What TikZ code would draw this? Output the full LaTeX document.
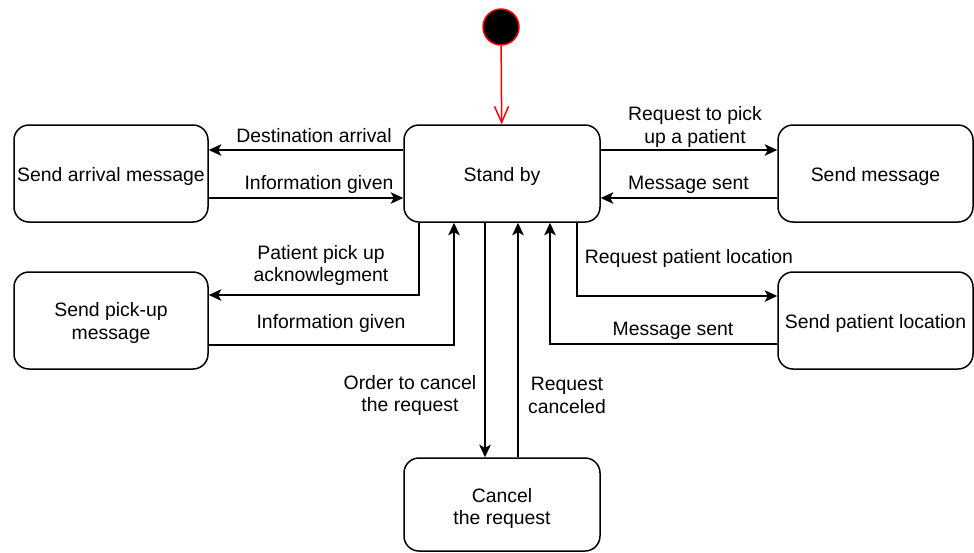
\documentclass[tikz,border=0pt]{standalone}
\usepackage{fontspec}
\setmainfont{Liberation Sans}
\usetikzlibrary{arrows.meta}
\begin{document}
\begin{tikzpicture}[x=1pt,y=-1pt,
  txt/.style={font=\fontsize{19.4}{22.5}\selectfont, align=center, inner sep=0pt},
  state/.style={draw, line width=1.5pt, rounded corners=15pt, inner sep=0pt, minimum width=#1, minimum height=97pt},
  state/.default=195pt,
  stxt/.style={txt, yshift=-2.5pt},
  arr/.style={line width=1.5pt, -{Stealth[length=12.5pt,width=11.5pt,inset=3pt]}},
  lbl/.style={txt, yshift=-1.5pt}]
\useasboundingbox (0,0) rectangle (974,552);
% states
\node[circle, draw=red, fill=black, line width=1.5pt, minimum size=36pt, inner sep=0pt] (init) at (501,27) {};
\node[state=196pt, label={[stxt]center:Stand by}] (standby) at (502,173.5) {};
\node[state=194pt, label={[stxt]center:Send arrival message}] (arrival) at (111,173.5) {};
\node[state=195pt, label={[stxt]center:Send message}] (sendmsg) at (875.5,173.5) {};
\node[state=194pt, label={[stxt]center:{Send pick-up\\message}}] (pickup) at (111,320.5) {};
\node[state=195pt, label={[stxt]center:Send patient location}] (location) at (875.5,320.5) {};
\node[state=196pt, minimum height=93pt, label={[stxt,yshift=-1.5pt]center:{Cancel\\the request}}] (cancel) at (502,504.5) {};
% helper coordinates
\coordinate (y150) at (0,150);
\coordinate (y198) at (0,198);
\coordinate (y295) at (0,295);
\coordinate (y345) at (0,345);
\coordinate (y296) at (0,296);
\coordinate (y344) at (0,344);
\coordinate (x419) at (419,0);
\coordinate (x454) at (454,0);
\coordinate (x577) at (577,0);
\coordinate (x550) at (550,0);
\coordinate (x485) at (485,0);
\coordinate (x518) at (518,0);
% initial arrow
\draw[red, line width=1.5pt, -{Straight Barb[length=16pt,width=14pt]}] (init) -- (standby);
% connectors
\draw[arr] (standby.west |- y150) -- (arrival.east |- y150);
\draw[arr] (arrival.east |- y198) -- (standby.west |- y198);
\draw[arr] (standby.east |- y150) -- (sendmsg.west |- y150);
\draw[arr] (sendmsg.west |- y198) -- (standby.east |- y198);
\draw[arr] (standby.south -| x419) |- (pickup.east |- y295);
\draw[arr] (pickup.east |- y345) -| (standby.south -| x454);
\draw[arr] (standby.south -| x577) |- (location.west |- y296);
\draw[arr] (location.west |- y344) -| (standby.south -| x550);
\draw[arr] (standby.south -| x485) -- (cancel.north -| x485);
\draw[arr] (cancel.north -| x518) -- (standby.south -| x518);
% labels
\node[lbl] (l1) at (314,134) {Destination arrival};
\node[lbl] (l2) at (319,183) {Information given};
\node[lbl] (l3) at (695,125.5) {Request to pick\\up a patient};
\node[lbl] (l4) at (688.5,183) {Message sent};
\node[lbl] (l5) at (321,264) {Patient pick up\\acknowlegment};
\node[lbl] (l6) at (331,321.5) {Information given};
\node[lbl] (l7) at (689,256.5) {Request patient location};
\node[lbl] (l8) at (673,329.5) {Message sent};
\node[lbl] (l9) at (410,394) {Order to cancel\\the request};
\node[lbl] (l10) at (567,394) {Request\\canceled};
\end{tikzpicture}
\end{document}
